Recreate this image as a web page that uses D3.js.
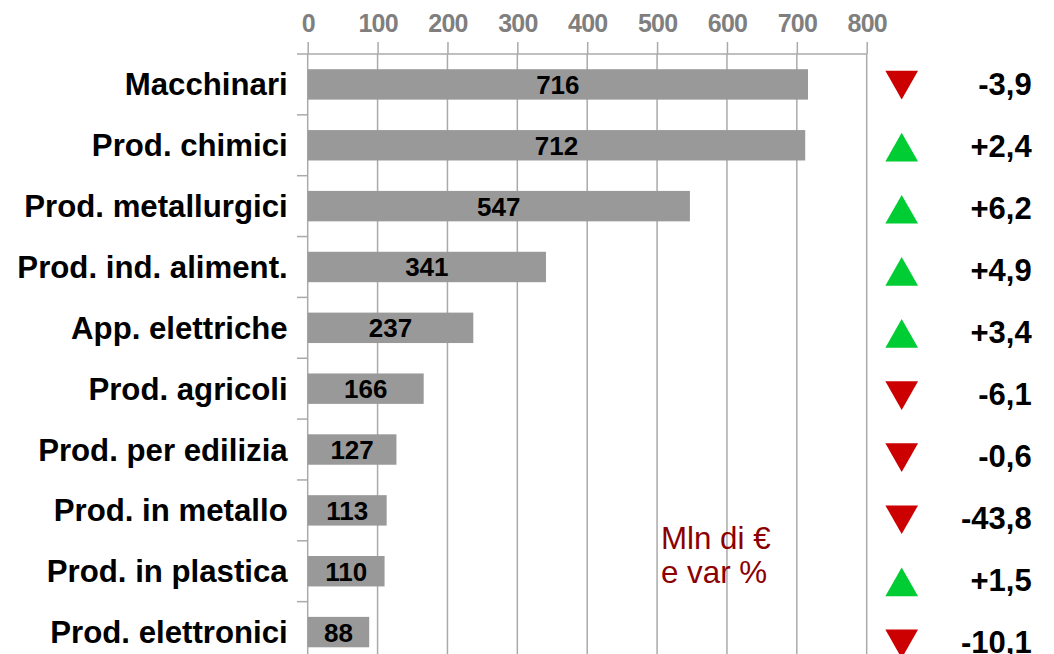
<!DOCTYPE html>
<html>
<head>
<meta charset="utf-8">
<script src="https://cdn.jsdelivr.net/npm/d3@7"></script>
<style>
  body { margin: 0; background: #fff; }
  svg { display: block; font-family: "Liberation Sans", Arial, sans-serif; }
</style>
</head>
<body>
<svg id="chart" width="1054" height="654"></svg>
<script>
const categories = ["Macchinari", "Prod. chimici", "Prod. metallurgici", "Prod. ind. aliment.",
  "App. elettriche", "Prod. agricoli", "Prod. per edilizia", "Prod. in metallo",
  "Prod. in plastica", "Prod. elettronici"]
const values = [716, 712, 547, 341, 237, 166, 127, 113, 110, 88]
const changes = [-3.9, 2.4, 6.2, 4.9, 3.4, -6.1, -0.6, -43.8, 1.5, -10.1]
const xTicks = [0, 100, 200, 300, 400, 500, 600, 700, 800]
const noteLines = ["Mln di €", "e var %"]

const layout = {
    left: 307.7,
    right: 866.7,
    top: 54,
    bandStep: 60.85,
    sideStep: 62.1,
    triX: 901.7,
    triW: 32.7,
    triH: 28.7,
    valueX: 1031.7,
    barFill: "#999999",
    gridStroke: "#aaaaaa",
    tickColor: "#7f7f7f",
    upFill: "#00cc33",
    downFill: "#cc0000",
    noteColor: "#8b0000",
}

const svg = d3.select("#chart")

const x = d3.scaleLinear().domain([0, 800]).range([layout.left, layout.right])
const y = d3.scaleBand().domain(categories)
    .range([layout.top, layout.top + layout.bandStep * categories.length])
    .paddingInner(0.5).paddingOuter(0.25)
const ySide = d3.scaleBand().domain(categories)
    .range([layout.top, layout.top + layout.sideStep * categories.length])

// grid lines
svg.append("g").selectAll("line")
    .data(xTicks.slice(1))
    .join("line")
    .attr("x1", d => x(d)).attr("x2", d => x(d))
    .attr("y1", layout.top).attr("y2", 654)
    .attr("stroke", layout.gridStroke).attr("stroke-width", 1.5)

// top axis
const xAxis = svg.append("g")
    .attr("transform", `translate(0,${layout.top})`)
    .call(d3.axisTop(x).tickValues(xTicks).tickSize(12).tickPadding(10).tickSizeOuter(0))
xAxis.select(".domain").remove()
xAxis.selectAll(".tick line").attr("stroke", layout.gridStroke).attr("stroke-width", 1.5)
xAxis.selectAll(".tick text")
    .attr("fill", layout.tickColor)
    .style("font-size", "25px").style("font-weight", "bold")
    .style("letter-spacing", "-0.8px")
    .style("font-family", "'Liberation Sans', Arial, sans-serif")

svg.append("line")
    .attr("x1", layout.left - 10.7).attr("x2", layout.right)
    .attr("y1", layout.top).attr("y2", layout.top)
    .attr("stroke", layout.gridStroke).attr("stroke-width", 1.5)

// left axis with ticks at band boundaries
svg.append("line")
    .attr("x1", layout.left).attr("x2", layout.left)
    .attr("y1", layout.top).attr("y2", 654)
    .attr("stroke", layout.gridStroke).attr("stroke-width", 1.5)
svg.append("g").selectAll("line")
    .data(categories.slice(1))
    .join("line")
    .attr("x1", layout.left - 10.7).attr("x2", layout.left)
    .attr("y1", d => y(d) - y.step() * y.paddingInner() / 2)
    .attr("y2", d => y(d) - y.step() * y.paddingInner() / 2)
    .attr("stroke", layout.gridStroke).attr("stroke-width", 1.5)

// category labels
svg.append("g").selectAll("text")
    .data(categories)
    .join("text")
    .attr("x", layout.left - 20)
    .attr("y", d => y(d) + y.bandwidth() / 2 + 11)
    .attr("text-anchor", "end")
    .style("font-size", "31.2px").style("font-weight", "bold")
    .text(d => d)

// bars
svg.append("g").selectAll("rect")
    .data(values)
    .join("rect")
    .attr("x", x(0))
    .attr("y", (d, i) => y(categories[i]))
    .attr("width", d => x(d) - x(0))
    .attr("height", y.bandwidth())
    .attr("fill", layout.barFill)

svg.append("g").selectAll("text")
    .data(values)
    .join("text")
    .attr("x", d => (x(0) + x(d)) / 2)
    .attr("y", (d, i) => y(categories[i]) + y.bandwidth() / 2 + 9.5)
    .attr("text-anchor", "middle")
    .style("font-size", "26px").style("font-weight", "bold")
    .text(d => d)

// change markers
const cy = (i) => ySide(categories[i]) + ySide.bandwidth() / 2
svg.append("g").selectAll("path")
    .data(changes)
    .join("path")
    .attr("d", (d, i) => {
        const c = cy(i), w = layout.triW / 2, h = layout.triH / 2
        return d < 0
            ? `M${layout.triX - w},${c - h}L${layout.triX + w},${c - h}L${layout.triX},${c + h}Z`
            : `M${layout.triX - w},${c + h}L${layout.triX + w},${c + h}L${layout.triX},${c - h}Z`
    })
    .attr("fill", d => d < 0 ? layout.downFill : layout.upFill)

const fmt = (v) => (v > 0 ? "+" : "") + v.toFixed(1).replace(".", ",")
svg.append("g").selectAll("text")
    .data(changes)
    .join("text")
    .attr("x", layout.valueX)
    .attr("y", (d, i) => cy(i) + 9.5)
    .attr("text-anchor", "end")
    .style("font-size", "31px").style("font-weight", "bold")
    .text(d => fmt(d))

// note
svg.append("g").selectAll("text")
    .data(noteLines)
    .join("text")
    .attr("x", 661)
    .attr("y", (d, i) => 549 + i * 33.5)
    .attr("fill", layout.noteColor)
    .style("font-size", "31.3px")
    .text(d => d)
</script>
</body>
</html>
